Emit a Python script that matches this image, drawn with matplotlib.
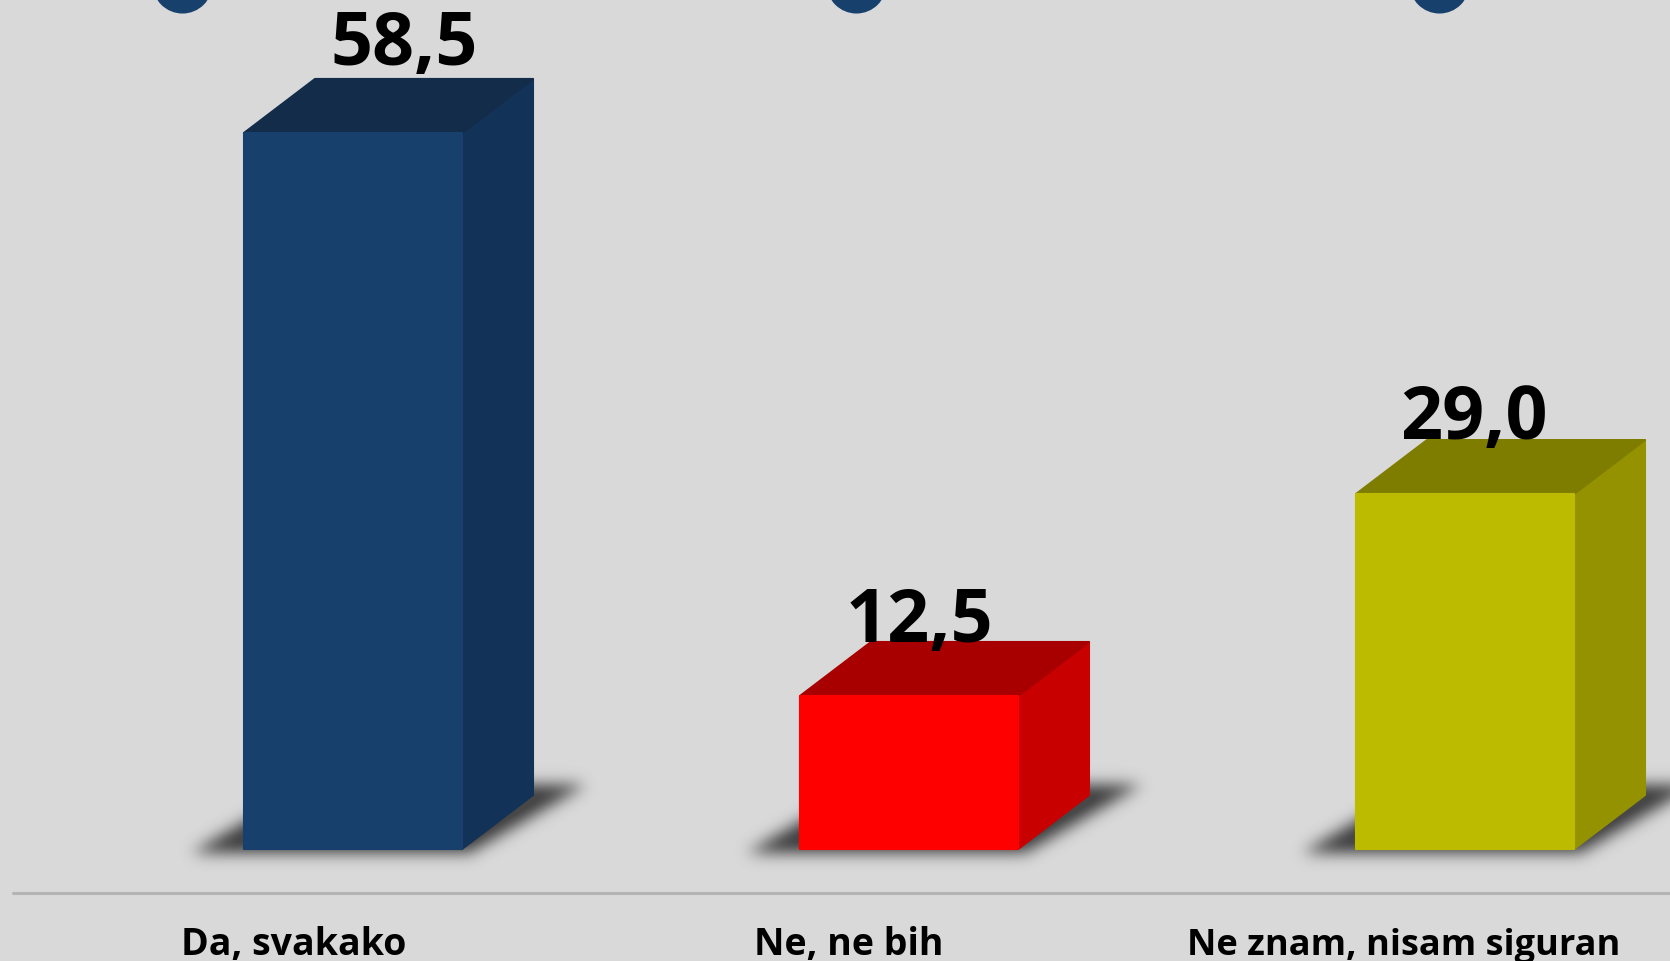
import numpy as np
import matplotlib
matplotlib.use("Agg")
import matplotlib.pyplot as plt
from matplotlib.path import Path

categories = ["Da, svakako", "Ne, ne bih", "Ne znam, nisam siguran"]
values = [58.5, 12.5, 29.0]
value_labels = ["58,5", "12,5", "29,0"]
front_colors = ["#17406D", "#FF0000", "#BDBB00"]
top_colors = ["#122C4A", "#A80000", "#7F7D00"]
side_colors = ["#133257", "#C80000", "#949200"]

W, H = 1670, 961
BG = "#D9D9D9"
PX_X = 556.0          # pixels per category
PX_Y = 12.24          # pixels per percentage point
BASE_PX = 849.0       # baseline, from top
X0_PX = 353.0         # centre of first bar front
BAR_W = 218 / PX_X
DX = 71 / PX_X
DY = 54 / PX_Y

plt.rcParams["font.family"] = ["Open Sans", "Lato", "DejaVu Sans"]

fig = plt.figure(figsize=(W / 100, H / 100), dpi=100, facecolor=BG)
ax = fig.add_axes([0, 0, 1, 1], facecolor=BG)
xlim = (-X0_PX / PX_X, (W - X0_PX) / PX_X)
ylim = (-(H - BASE_PX) / PX_Y, BASE_PX / PX_Y)
ax.axis("off")

positions = np.arange(len(values))

# blurred floor shadows, built in data space on a grid wider than the figure
PAD = 120
nx, ny = (W + 2 * PAD) // 2, (H + 2 * PAD) // 2
gx = np.linspace(xlim[0] - PAD / PX_X, xlim[1] + PAD / PX_X, nx)
gy = np.linspace(ylim[0] - PAD / PX_Y, ylim[1] + PAD / PX_Y, ny)
XX, YY = np.meshgrid(gx, gy)
pts = np.column_stack([XX.ravel(), YY.ravel()])
mask = np.zeros(XX.shape)
for p in positions:
    left = p - BAR_W / 2
    right = p + BAR_W / 2
    low = -5 / PX_Y
    high = 64 / PX_Y
    slant = 118 / PX_X
    poly = Path([(left - 54 / PX_X, low), (right + 6 / PX_X, low),
                 (right + 6 / PX_X + slant, high), (left - 54 / PX_X + slant, high)])
    mask[poly.contains_points(pts).reshape(XX.shape)] = 1
fy = np.fft.fftfreq(ny)[:, None]
fx = np.fft.fftfreq(nx)[None, :]
sigma = 3.8
blur = np.fft.ifft2(np.fft.fft2(mask) * np.exp(-2 * (np.pi * sigma) ** 2 * (fx ** 2 + fy ** 2))).real
rgba = np.zeros((ny, nx, 4))
rgba[..., :3] = 0.25
rgba[..., 3] = np.clip(blur * 1.1, 0, 1) * 0.95
ax.imshow(rgba, extent=[gx[0], gx[-1], gy[0], gy[-1]], origin="lower",
          aspect="auto", interpolation="bilinear", zorder=1)
ax.set_xlim(*xlim)
ax.set_ylim(*ylim)

# 3-D looking bars
for p, v, fc, tc, sc in zip(positions, values, front_colors, top_colors, side_colors):
    l, r = p - BAR_W / 2, p + BAR_W / 2
    ax.fill([r, r + DX, r + DX, r], [0, DY, v + DY, v], facecolor=sc, edgecolor=sc, lw=1.5,
            joinstyle="round", zorder=3)
    ax.fill([l, r, r + DX, l + DX], [v, v, v + DY, v + DY], facecolor=tc, edgecolor=tc, lw=1.5,
            joinstyle="round", zorder=3)
    ax.fill([l, r, r, l], [0, 0, v, v], facecolor=fc, edgecolor=fc, lw=1.5,
            joinstyle="round", zorder=4)

# baseline
ax.plot([13 / PX_X + xlim[0], xlim[1]], [-44 / PX_Y] * 2,
        color="#B4B4B4", lw=2.2, solid_capstyle="round", zorder=2)

# value labels
label_dx = [51, 10, 8.5]
label_dy = [68, 54, 55]
for p, v, t, dx, dy in zip(positions, values, value_labels, label_dx, label_dy):
    ax.annotate(t, (p, v), xytext=(dx * 0.72, dy * 0.72), textcoords="offset points",
                ha="center", va="baseline", fontsize=53, fontweight="bold",
                color="black", zorder=6)

# category labels
cat_x = [294, 849, 1404]
cat_size = [27, 27, 26]
for p, t, cx, fs in zip(positions, categories, cat_x, cat_size):
    ax.annotate(t, (p, 0), xytext=((cx - (X0_PX + p * PX_X)) * 0.72, -106 * 0.72),
                textcoords="offset points", ha="center", va="baseline",
                fontsize=fs, fontweight="bold", color="black", zorder=6)

# cropped icons at the top edge
icon_x = [-0.308, 0.904, 1.954]
ax.scatter(icon_x, [BASE_PX / PX_Y + 17 / PX_Y] * 3, s=1870, color="#17406D",
           linewidths=0, zorder=5, clip_on=True)

fig.savefig("out.png", dpi=100, facecolor=BG)
